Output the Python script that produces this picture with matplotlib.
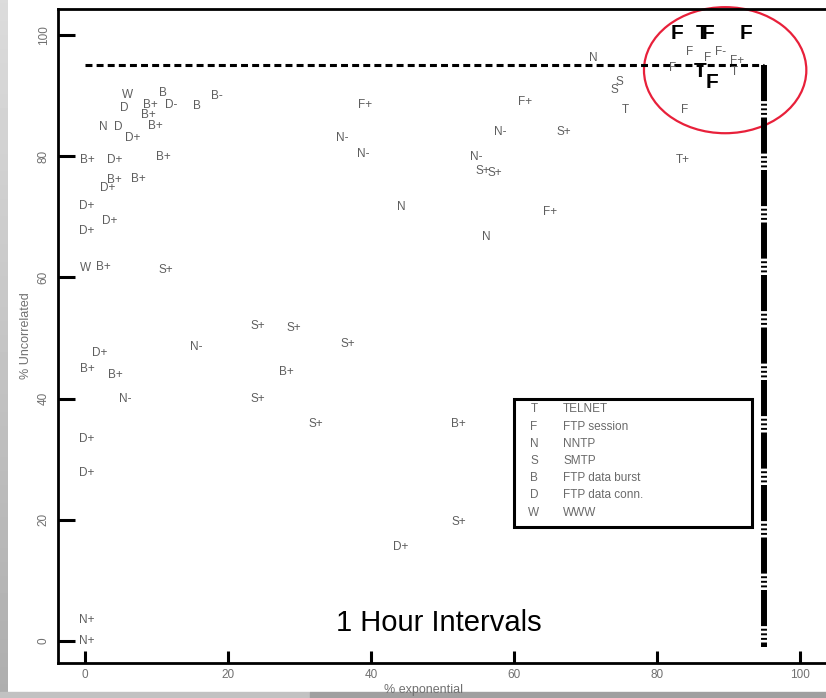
import matplotlib
matplotlib.use("Agg")
import matplotlib.pyplot as plt
from matplotlib.patches import Ellipse, Rectangle
import numpy as np

plt.rcParams['font.family'] = ['Liberation Sans', 'DejaVu Sans']
plt.rcParams['lines.scale_dashes'] = False

# ---- data: per-trace test results (letter = protocol, suffix = sign) ----
point_labels = [
    "W", "B", "B-", "D", "B+", "D-", "B", "B+", "N", "D", "B+", "D+",
    "B+", "D+", "B+", "B+", "B+", "D+", "D+", "D+", "D+", "W", "B+", "S+",
    "S+", "S+", "N-", "S+", "D+", "B+", "B+", "B+", "N-", "S+", "S+", "B+",
    "D+", "D+", "S+", "D+", "N+", "N+",
    "F+", "F+", "N-", "N-", "N-", "S+", "N-", "S+", "S+", "N", "F+", "N",
    "N", "S", "S", "T", "F", "T+",
    "F", "F-", "F", "F", "F+", "T",
]
point_x = [
    6.0, 10.9, 18.5, 5.5, 9.2, 12.0, 15.7, 8.8, 2.5, 4.6, 9.8, 6.7,
    0.3, 4.2, 10.9, 4.1, 7.4, 3.2, 0.3, 3.5, 0.3, 0.1, 2.5, 11.3,
    24.2, 29.2, 15.5, 36.8, 2.0, 0.3, 4.2, 28.1, 5.6, 24.2, 32.3, 52.2,
    0.3, 0.3, 52.2, 44.2, 0.3, 0.3,
    39.2, 61.5, 36.0, 38.9, 58.0, 66.9, 54.7, 55.6, 57.3, 44.2, 65.0, 56.1,
    71.0, 74.7, 74.0, 75.5, 83.9, 83.6,
    84.6, 88.8, 82.2, 87.0, 91.2, 90.8,
]
point_y = [
    90.1, 90.4, 89.9, 88.0, 88.4, 88.4, 88.3, 86.8, 84.8, 84.8, 85.0, 83.0,
    79.4, 79.4, 79.9, 76.0, 76.3, 74.8, 71.8, 69.3, 67.7, 61.5, 61.8, 61.2,
    52.0, 51.6, 48.5, 49.0, 47.5, 44.9, 43.9, 44.4, 39.9, 39.9, 35.8, 35.8,
    33.3, 27.7, 19.6, 15.5, 3.5, 0.0,
    88.4, 88.9, 83.0, 80.4, 84.0, 84.0, 79.9, 77.5, 77.2, 71.6, 70.8, 66.7,
    96.2, 92.3, 91.0, 87.6, 87.6, 79.4,
    97.2, 97.2, 94.6, 96.2, 95.7, 93.9,
]

# traces that pass both tests (drawn large)
pass_labels = ["F", "T", "F", "F", "T", "F"]
pass_x = [82.8, 86.3, 87.1, 92.4, 86.0, 87.7]
pass_y = [100.2, 100.2, 100.2, 100.2, 94.0, 92.1]

legend_codes = ["T", "F", "N", "S", "B", "D", "W"]
legend_names = ["TELNET", "FTP session", "NNTP", "SMTP",
                "FTP data burst", "FTP data conn.", "WWW"]

xticks = [0, 20, 40, 60, 80, 100]
yticks = [0, 20, 40, 60, 80, 100]
threshold = 95

W, H = 826, 698
fig = plt.figure(figsize=(W / 100, H / 100), dpi=100)

# scan-edge shading
edge_ax = fig.add_axes([0, 0, 8 / W, 1], zorder=0)
edge_ax.imshow(np.linspace(0.86, 0.68, 200).reshape(-1, 1), cmap="gray",
               vmin=0, vmax=1, aspect="auto", extent=[0, 1, 0, 1])
edge_ax.axis("off")
fig.patches.append(Rectangle((0, 0), 310 / W, 6 / H, transform=fig.transFigure,
                             color="#c2c2c2", zorder=0))
fig.patches.append(Rectangle((310 / W, 0), 1 - 310 / W, 6 / H,
                             transform=fig.transFigure, color="#a0a0a0", zorder=0))

ax = fig.add_axes([58 / W, (H - 663) / H, (W - 58) / W, (663 - 9) / H], zorder=2)
ax.patch.set_alpha(0)
ax.set_xlim(-3.78, 103.6)
ax.set_ylim(-3.63, 104.3)

for s in ["left", "bottom", "top"]:
    ax.spines[s].set_linewidth(2.0)
ax.spines["right"].set_visible(False)

ax.set_xticks(xticks)
ax.set_yticks(yticks)
ax.set_xticklabels([str(v) for v in xticks], color="#707070", fontsize=8.5)
ax.set_yticklabels([str(v) for v in yticks], color="#707070", fontsize=8.5,
                   rotation=90, va="center")
ax.tick_params(axis="y", direction="in", length=12, width=2.2, pad=6)
ax.tick_params(axis="x", direction="in", length=8.5, width=2.2, pad=4)
ax.tick_params(top=False, right=False)

fig.text(424 / W, (H - 690) / H, "% exponential", color="#707070",
         fontsize=9, ha="center", va="center")
ax.set_ylabel("% Uncorrelated", color="#707070", fontsize=9, labelpad=4)

# 95% acceptance thresholds
ax.plot([0, threshold], [threshold, threshold], color="black", lw=2.2,
        linestyle=(0, (5, 3)), dash_capstyle="butt")
ax.plot([threshold, threshold], [threshold, -1], color="black", lw=4.3,
        linestyle=(0, (26, 1.9, 1.4, 1.9, 1.4, 1.9, 1.4, 1.9)),
        dash_capstyle="butt")

for lab, x, y in zip(point_labels, point_x, point_y):
    ax.text(x, y, lab, ha="center", va="center", fontsize=8.5, color="#5e5e5e")

for lab, x, y in zip(pass_labels, pass_x, pass_y):
    ax.text(x, y, lab, ha="center", va="center", fontsize=15,
            fontweight="bold", color="black")

fig.text(336 / W, (H - 623) / H, "1 Hour Intervals", fontsize=21,
         ha="left", va="center", color="black")

# legend box
fig.patches.append(Rectangle((514 / W, (H - 527) / H), (752 - 514) / W,
                             (527 - 399) / H, transform=fig.transFigure,
                             fill=False, edgecolor="black", lw=2.2, zorder=5))
legend_rows = [409, 427, 444, 461, 478, 495, 513]
for code, name, ry in zip(legend_codes, legend_names, legend_rows):
    fig.text(534 / W, (H - ry) / H, code, ha="center", va="center",
             fontsize=8.5, color="#6a6a6a")
    fig.text(563 / W, (H - ry) / H, name, ha="left", va="center",
             fontsize=8.5, color="#6a6a6a")

# highlight around the passing traces
ax.add_patch(Ellipse((89.5, 94.2), 22.7, 20.8, fill=False,
                     edgecolor="#e8203a", lw=1.6, clip_on=False))

fig.savefig("out.png", dpi=100)
